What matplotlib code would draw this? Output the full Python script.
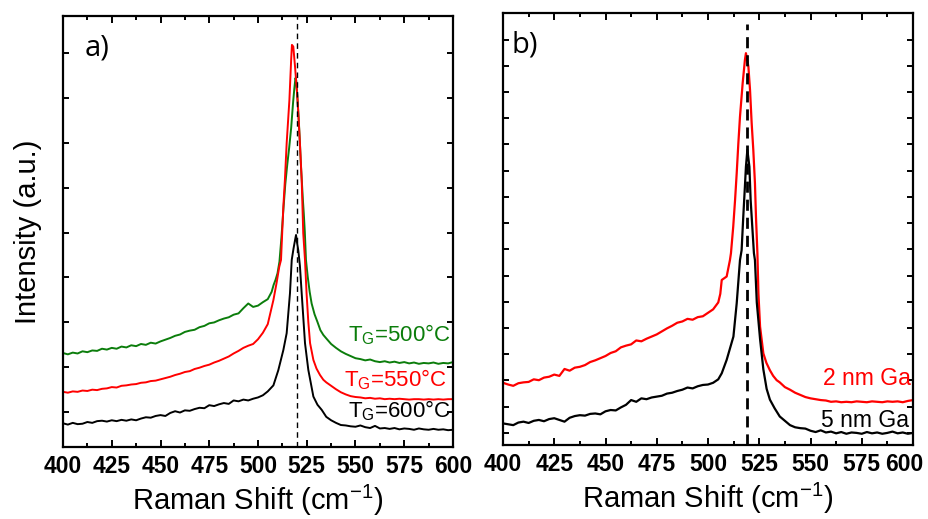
import numpy as np
import matplotlib
matplotlib.use("Agg")
import matplotlib.pyplot as plt
from matplotlib.ticker import MultipleLocator, FixedLocator, NullFormatter
from matplotlib.transforms import ScaledTranslation

plt.rcParams['font.family'] = ['Liberation Sans', 'DejaVu Sans']
plt.rcParams['mathtext.fontset'] = 'custom'
plt.rcParams['mathtext.rm'] = 'Liberation Sans'
plt.rcParams['mathtext.it'] = 'Liberation Sans:italic'
plt.rcParams['mathtext.bf'] = 'Liberation Sans:bold'
plt.rcParams['mathtext.default'] = 'regular'

# ---------------- data (Raman shift in cm^-1, intensity in a.u.) ----------------
x_low = [400, 402.5, 405, 407.5, 410, 412.5, 415, 417.5, 420, 422.5, 425, 427.5, 430,
         432.5, 435, 437.5, 440, 442.5, 445, 447.5, 450, 452.5, 455, 457.5, 460, 462.5,
         465, 467.5, 470, 472.5, 475, 477.5, 480, 482.5, 485, 487.5, 490, 492.5, 495,
         497.5, 500, 502.5, 505]
x_high = [535, 537.5, 540, 542.5, 545, 547.5, 550, 552.5, 555, 557.5, 560, 562.5, 565,
          567.5, 570, 572.5, 575, 577.5, 580, 582.5, 585, 587.5, 590, 592.5, 595, 597.5, 600]

# Panel a) T_G = 500 C (green)
a500_low = [21.8, 21.5, 21.9, 21.7, 22.2, 22.0, 22.4, 22.3, 22.8, 22.6, 23.0, 22.8, 23.3,
            23.1, 23.6, 23.4, 23.9, 23.7, 24.2, 24.0, 24.5, 24.9, 25.3, 25.8, 26.1, 26.7,
            27.0, 27.2, 27.8, 28.1, 28.7, 28.9, 29.4, 29.8, 30.1, 30.7, 31.0, 32.2, 33.3,
            32.5, 32.8, 33.6, 34.3]
a500_peak_x = [507, 508, 509, 510, 511, 512, 513, 514, 515, 516, 517, 518, 518.6, 519.2,
               519.6, 520, 520.5, 521, 521.5, 522, 522.5, 523, 523.5, 524, 524.6, 525.5,
               526.5, 527.5, 529, 530.5, 532, 533.5]
a500_peak_y = [36.0, 37.6, 38.8, 40.3, 43.0, 48.5, 55.0, 61.0, 65.5, 69.5, 74.0, 80.0, 83.0,
               85.6, 85.0, 82.5, 79.0, 75.0, 70.5, 65.5, 61.5, 57.5, 54.0, 50.0, 43.4, 39.5,
               36.0, 33.3, 30.8, 29.0, 27.1, 26.0]
a500_high = [25.2, 23.9, 23.0, 22.2, 21.6, 21.1, 20.6, 20.4, 20.1, 20.3, 19.9, 19.7, 19.9,
             19.6, 19.8, 19.5, 19.7, 19.4, 19.6, 19.3, 19.5, 19.4, 19.6, 19.3, 19.5, 19.4, 19.7]

# Panel a) T_G = 550 C (red)
a550_low = [12.8, 12.6, 12.9, 12.8, 13.1, 13.0, 13.3, 13.2, 13.5, 13.6, 13.9, 13.8, 14.2,
            14.3, 14.5, 14.6, 14.9, 15.0, 15.3, 15.4, 15.7, 16.0, 16.3, 16.7, 17.0, 17.4,
            17.6, 18.1, 18.4, 18.8, 19.1, 19.6, 20.0, 20.5, 21.0, 21.7, 22.3, 23.0, 23.5,
            23.9, 25.0, 26.5, 28.5]
a550_peak_x = [507.9, 509.5, 510.9, 511.8, 513, 513.8, 514.7, 516.1, 517, 517.4, 518.1, 519,
               520.3, 521.5, 522.4, 523.2, 524.1, 524.9, 525.8, 526.7, 528.4, 530, 531.8, 533.5]
a550_peak_y = [34.1, 38.0, 41.8, 43.4, 55.8, 62.0, 70.5, 80.5, 89.8, 93.3, 92.9, 88.2, 80.5,
               70.5, 62.0, 49.6, 43.4, 35.7, 29.0, 24.1, 20.2, 18.2, 16.7, 15.6]
a550_high = [15.0, 14.2, 13.4, 12.7, 12.2, 11.8, 11.6, 11.5, 11.3, 11.4, 11.2, 11.3, 11.1,
             11.2, 11.1, 11.2, 11.1, 11.0, 11.1, 11.1, 11.0, 11.1, 11.0, 11.1, 11.0, 11.1, 11.1]

# Panel a) T_G = 600 C (black)
a600_low = [5.5, 5.2, 5.6, 5.3, 5.4, 5.8, 5.6, 6.0, 6.1, 5.9, 6.2, 6.0, 6.3, 6.1, 6.4, 6.2,
            6.6, 6.9, 6.8, 7.2, 7.4, 7.2, 7.9, 8.3, 8.0, 8.5, 8.4, 8.8, 9.1, 9.0, 9.7, 9.5,
            9.9, 10.2, 10.0, 10.8, 10.6, 11.0, 10.8, 11.2, 11.5, 12.0, 12.9]
a600_peak_x = [507.9, 510.4, 513, 514.7, 516.4, 517.3, 518.2, 519, 519.5, 520, 520.7, 521.5,
               522.4, 524.1, 525.8, 528.4, 530.5, 532.7]
a600_peak_y = [14.3, 17.8, 22.5, 26.4, 35.7, 43.4, 46.0, 48.0, 49.2, 47.5, 45.5, 42.0, 35.7,
               24.1, 17.9, 11.7, 9.8, 8.6]
a600_high = [7.0, 6.2, 5.6, 5.1, 5.0, 4.8, 4.7, 5.0, 4.6, 4.4, 4.9, 4.3, 4.4, 4.2, 4.4, 4.1,
             4.3, 4.2, 4.0, 4.3, 4.1, 4.0, 4.2, 4.0, 4.1, 3.9, 4.0]

# Panel b) 2 nm Ga (red)
b2_low = [14.4, 14.0, 13.7, 14.3, 14.5, 14.6, 15.2, 15.0, 15.6, 15.8, 16.3, 16.0, 17.6, 17.2,
          17.9, 18.1, 18.5, 19.2, 19.6, 20.1, 20.6, 21.3, 21.7, 22.6, 23.0, 23.3, 24.2, 24.0,
          24.6, 25.1, 25.6, 26.3, 27.0, 27.6, 28.3, 28.6, 29.2, 29.0, 29.6, 29.8, 30.6, 31.4,
          33.0]
b2_peak_x = [506, 506.7, 509.1, 510.7, 511.2, 512.3, 513.2, 514.0, 514.8, 515.6, 516.9, 518.0,
             518.5, 519.7, 520.5, 521.3, 522.1, 522.9, 523.4, 524.1, 524.6, 525.4, 527, 528.5,
             530.2, 531.8, 533.5]
b2_peak_y = [35.0, 38.2, 39.0, 42.8, 44.4, 50.5, 56.7, 62.9, 69.8, 76.0, 83.7, 89.1, 90.7,
             87.6, 82.2, 74.5, 68.3, 60.6, 52.9, 44.4, 35.1, 27.4, 21.2, 19.0, 17.3, 16.0, 15.0]
b2_high = [14.5, 13.4, 12.8, 12.1, 11.6, 11.1, 10.8, 10.6, 10.4, 10.3, 10.0, 10.1, 9.9, 10.0,
           9.9, 10.1, 10.0, 9.9, 10.1, 10.0, 9.9, 10.1, 10.0, 10.1, 9.9, 10.2, 10.4]

# Panel b) 5 nm Ga (black)
b5_low = [5.0, 4.8, 4.6, 5.2, 5.4, 5.1, 5.6, 5.8, 5.5, 6.0, 6.2, 5.8, 5.4, 6.3, 6.7, 6.9, 6.8,
          7.2, 7.3, 7.1, 7.8, 8.1, 8.0, 8.7, 9.3, 10.4, 10.0, 10.8, 10.6, 11.0, 11.2, 11.4,
          11.9, 12.1, 12.5, 12.8, 13.3, 13.1, 13.6, 13.9, 14.0, 14.4, 15.2]
b5_peak_x = [506.7, 509.1, 512.4, 514.0, 515.6, 516.4, 517.2, 518.0, 518.5, 519.2, 520.2,
             520.8, 521.8, 522.4, 522.9, 523.8, 525.4, 527.0, 528.6, 530.2, 532.5]
b5_peak_y = [16.6, 19.7, 25.1, 32.8, 42.8, 45.1, 52.8, 59.8, 64.4, 68.3, 64.4, 56.7, 49.0,
             44.4, 42.8, 33.0, 24.5, 17.5, 13.0, 10.5, 8.5]
b5_high = [6.6, 5.6, 4.6, 4.1, 3.9, 3.8, 3.3, 3.0, 3.4, 2.9, 3.1, 2.7, 3.0, 2.6, 2.9, 2.8,
           2.6, 3.0, 2.7, 2.9, 2.6, 2.8, 3.1, 2.7, 2.9, 2.6, 2.8]

si_line_a = 520.0
si_line_b = 519.0

labels_a = ['T$_{G}$=500°C', 'T$_{G}$=550°C', 'T$_{G}$=600°C']
labels_b = ['2 nm Ga', '5 nm Ga']
xtick_vals = [400, 425, 450, 475, 500, 525, 550, 575, 600]

GREEN = '#0b7d0b'
RED = '#ff0000'
BLACK = '#000000'


def series(low, px, py, high):
    return (np.array(x_low + px + x_high), np.array(low + py + high))


fig = plt.figure(figsize=(9.29, 5.19), dpi=100)
ax1 = fig.add_axes([63 / 929, 1 - 447 / 519, 390 / 929, 431 / 519])
ax2 = fig.add_axes([503 / 929, 1 - 445 / 519, 410 / 929, 432 / 519])

for ax in (ax1, ax2):
    ax.set_xlim(400, 600)
    ax.set_ylim(0, 100)
    ax.xaxis.set_major_locator(FixedLocator(xtick_vals))
    ax.xaxis.set_minor_locator(MultipleLocator(12.5))
    ax.tick_params(axis='both', which='both', direction='in', top=True, right=True,
                   width=1.4)
    ax.tick_params(axis='x', which='major', length=5, pad=6, labelsize=16.5)
    ax.tick_params(axis='x', which='minor', length=3)
    ax.tick_params(axis='y', which='major', length=4, labelleft=False)
    for lab in ax.get_xticklabels():
        lab.set_fontweight('bold')
    for s in ax.spines.values():
        s.set_linewidth(1.6)
    ax.set_xlabel('Raman Shift (cm$^{-1}$)', fontsize=21, labelpad=3)
    ax.yaxis.set_minor_formatter(NullFormatter())

ax1.yaxis.set_major_locator(FixedLocator(np.arange(8.1, 100, 10.41)))
ax2.yaxis.set_major_locator(FixedLocator(np.arange(2.8, 100, 6.07)))

# shift the last tick label of panel b slightly left so it stays inside the figure
last = ax2.xaxis.get_major_ticks()[-1].label1
last.set_transform(last.get_transform() + ScaledTranslation(-6 / 72, 0, fig.dpi_scale_trans))

# panel a
for (low, px, py, high), col in [((a500_low, a500_peak_x, a500_peak_y, a500_high), GREEN),
                                  ((a550_low, a550_peak_x, a550_peak_y, a550_high), RED),
                                  ((a600_low, a600_peak_x, a600_peak_y, a600_high), BLACK)]:
    xs, ys = series(low, px, py, high)
    ax1.plot(xs, ys, color=col, lw=1.4)
ax1.axvline(si_line_a, color='black', lw=1.0, ls=(0, (4, 3)))
ax1.set_ylabel('Intensity (a.u.)', fontsize=21, labelpad=15)
ax1.text(0.055, 0.925, 'a)', transform=ax1.transAxes, fontsize=21,
         family='Open Sans', va='center', ha='left')
ax1.text(0.995, 0.245, labels_a[0], transform=ax1.transAxes, color=GREEN, fontsize=16,
         ha='right', va='baseline')
ax1.text(0.985, 0.14, labels_a[1], transform=ax1.transAxes, color=RED, fontsize=16,
         ha='right', va='baseline')
ax1.text(0.995, 0.068, labels_a[2], transform=ax1.transAxes, color=BLACK, fontsize=16,
         ha='right', va='baseline')

# panel b
for (low, px, py, high), col in [((b2_low, b2_peak_x, b2_peak_y, b2_high), RED),
                                  ((b5_low, b5_peak_x, b5_peak_y, b5_high), BLACK)]:
    xs, ys = series(low, px, py, high)
    ax2.plot(xs, ys, color=col, lw=1.6)
ax2.axvline(si_line_b, ymax=0.975, color='black', lw=2.0, ls=(0, (4, 2.5)))
ax2.text(0.02, 0.925, 'b)', transform=ax2.transAxes, fontsize=21,
         family='Open Sans', va='center', ha='left')
ax2.text(0.995, 0.139, labels_b[0], transform=ax2.transAxes, color=RED, fontsize=16.5,
         ha='right', va='baseline')
ax2.text(0.99, 0.042, labels_b[1], transform=ax2.transAxes, color=BLACK, fontsize=16.5,
         ha='right', va='baseline')

fig.savefig('out.png', dpi=100)
